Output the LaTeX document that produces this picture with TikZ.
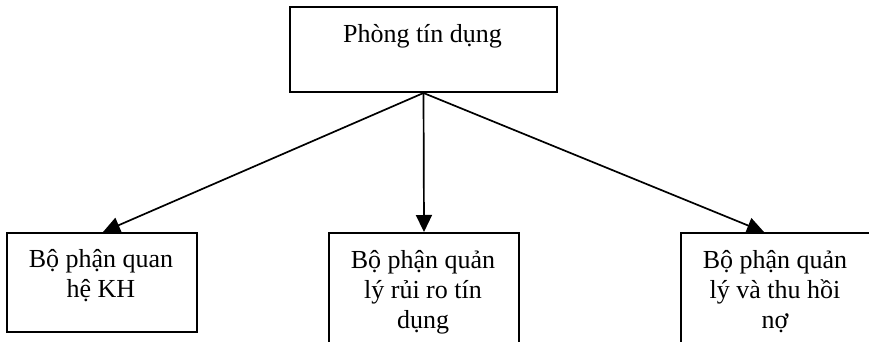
\documentclass[tikz,border=0pt]{standalone}
\usepackage{fontspec}
\setmainfont{Liberation Serif}
\usetikzlibrary{arrows.meta}

\tikzset{
  box/.style={draw=black, line width=2pt, rectangle, inner sep=0pt, fill=white},
  lbl/.style={anchor=north, align=center, inner sep=0pt,
              font=\fontsize{26}{30}\selectfont},
  arr/.style={line width=1.7pt, -{Triangle[length=17pt,width=16pt]}}
}

\begin{document}
\begin{tikzpicture}[x=1pt, y=-1pt]
  \useasboundingbox (0,0) rectangle (869,342);
  \clip (0,0) rectangle (869,342);

  % head unit
  \node[box, minimum width=267pt, minimum height=85pt, anchor=north west] (top) at (289,6) {};
  \node[lbl] (toptxt) at (422.5,21) {\strut Phòng tín dụng};

  % departments
  \node[box, minimum width=190pt, minimum height=99pt, anchor=north west] (lb) at (6,232) {};
  \node[box, minimum width=190pt, minimum height=130pt, anchor=north west] (mb) at (328,232) {};
  \node[box, minimum width=190pt, minimum height=130pt, anchor=north west] (rb) at (680,232) {};

  \node[lbl] (lbtxt) at (101,246) {\strut Bộ phận quan\\hệ KH};
  \node[lbl] (mbtxt) at (423,247) {\strut Bộ phận quản\\lý rủi ro tín\\dụng};
  \node[lbl] (rbtxt) at (775,247) {\strut Bộ phận quản\\lý và thu hồi\\nợ};

  % reporting lines
  \draw[arr] (top.south) -- ([xshift=1pt]lb.north);
  \draw[arr] (top.south) -- (mb.north);
  \draw[arr] (top.south) -- ([xshift=-12pt]rb.north);
\end{tikzpicture}
\end{document}
